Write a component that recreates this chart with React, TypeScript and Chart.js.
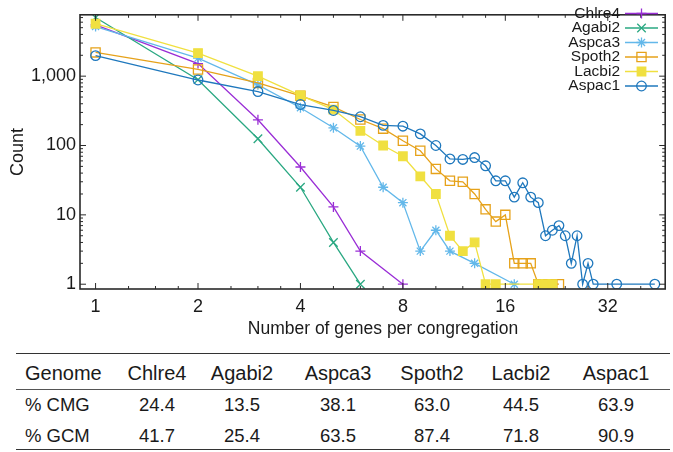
import React, { useEffect, useRef } from 'react';
import { Chart, registerables } from 'chart.js';

Chart.register(...registerables);

const FONT = '"Liberation Sans", Arial, Helvetica, sans-serif';

// ---- data ----
const seriesNames = ['Chlre4', 'Agabi2', 'Aspca3', 'Spoth2', 'Lacbi2', 'Aspac1'];

const chlre4X = [1, 2, 3, 4, 5, 6, 8];
const chlre4Y = [5500, 1520, 235, 49, 13, 3, 1];

const agabi2X = [1, 2, 3, 4, 5, 6];
const agabi2Y = [7000, 890, 125, 25, 4, 1];

const aspca3X = [1, 2, 3, 4, 5, 6, 7, 8, 9, 10, 11, 13, 17];
const aspca3Y = [5200, 1820, 750, 350, 180, 98, 25, 15, 3, 6, 3, 2, 1];

const spoth2X = [1, 2, 3, 4, 5, 6, 7, 8, 9, 10, 11, 12, 13, 14, 15, 16, 17, 18, 19, 20, 21, 22, 23];
const spoth2Y = [2200, 1250, 800, 520, 360, 237, 175, 117, 84, 46, 31, 30, 20, 12, 8, 10, 2, 2, 2, 1, 1, 1, 1];

const lacbi2X = [1, 2, 3, 4, 5, 6, 7, 8, 9, 10, 11, 12, 13, 14, 15, 20, 21, 22];
const lacbi2Y = [5700, 2150, 1000, 530, 330, 163, 100, 70, 36, 20, 5, 3, 4, 1, 1, 1, 1, 1];

const aspac1X = [1, 2, 3, 4, 5, 6, 7, 8, 9, 10, 11, 12, 13, 14, 15, 16, 17, 18, 19, 20, 21, 22, 23, 24, 25, 26, 27, 28, 29, 34, 44];
const aspac1Y = [1980, 880, 600, 390, 320, 260, 195, 190, 147, 100, 64, 63, 67, 51, 31, 31, 18, 29, 18, 15, 5, 6, 7, 5, 2, 5, 1, 2, 1, 1, 1];

const xTickValues = [1, 2, 4, 8, 16, 32];
const yTickValues = [1, 10, 100, 1000];

const xTitle = 'Number of genes per congregation';
const yTitle = 'Count';

// table
const tableHeader = ['Genome', 'Chlre4', 'Agabi2', 'Aspca3', 'Spoth2', 'Lacbi2', 'Aspac1'];
const cmgLabel = '% CMG';
const cmgValues = ['24.4', '13.5', '38.1', '63.0', '44.5', '63.9'];
const gcmLabel = '% GCM';
const gcmValues = ['41.7', '25.4', '63.5', '87.4', '71.8', '90.9'];

// ---- styles ----
const colors = ['#9a2ed6', '#2aa882', '#63b8ea', '#e6a21a', '#f0e040', '#1f78bd'];
const styles = [
  { pointStyle: 'cross', radius: 5, fill: false },
  { pointStyle: 'crossRot', radius: 6, fill: false },
  { pointStyle: 'star', radius: 5, fill: false },
  { pointStyle: 'rect', radius: 6.5, fill: false },
  { pointStyle: 'rect', radius: 6, fill: true },
  { pointStyle: 'circle', radius: 4.8, fill: false },
];

const xs = [chlre4X, agabi2X, aspca3X, spoth2X, lacbi2X, aspac1X];
const ys = [chlre4Y, agabi2Y, aspca3Y, spoth2Y, lacbi2Y, aspac1Y];

function drawMarker(ctx: CanvasRenderingContext2D, style: string, x: number, y: number, r: number, color: string, fill: boolean) {
  ctx.save();
  ctx.strokeStyle = color;
  ctx.fillStyle = color;
  ctx.lineWidth = 1.3;
  ctx.beginPath();
  if (style === 'cross' || style === 'star') {
    ctx.moveTo(x - r, y); ctx.lineTo(x + r, y);
    ctx.moveTo(x, y - r); ctx.lineTo(x, y + r);
  }
  if (style === 'crossRot' || style === 'star') {
    const d = r * Math.SQRT1_2;
    ctx.moveTo(x - d, y - d); ctx.lineTo(x + d, y + d);
    ctx.moveTo(x - d, y + d); ctx.lineTo(x + d, y - d);
  }
  if (style === 'rect') {
    const s = r * Math.SQRT1_2;
    ctx.rect(x - s, y - s, 2 * s, 2 * s);
    if (fill) ctx.fill();
  }
  if (style === 'circle') {
    ctx.arc(x, y, r, 0, Math.PI * 2);
  }
  ctx.stroke();
  ctx.restore();
}

const framePlugin = {
  id: 'frame',
  afterDatasetsDraw(chart: any) {
    const { ctx, chartArea: a, scales } = chart;
    const sx = scales.x;
    const sy = scales.y;
    ctx.save();
    ctx.strokeStyle = '#2a2a2a';
    ctx.lineWidth = 1;
    // x ticks (base 2)
    const xMinor: number[] = [];
    for (let k = -1; k <= 5; k++) {
      const b = Math.pow(2, k);
      [1.25, 1.5, 1.75].forEach((m) => xMinor.push(b * m));
    }
    const drawX = (v: number, len: number) => {
      const p = sx.getPixelForValue(v);
      if (p <= a.left + 1 || p >= a.right - 1) return;
      ctx.beginPath();
      ctx.moveTo(p, a.bottom); ctx.lineTo(p, a.bottom - len);
      ctx.moveTo(p, a.top); ctx.lineTo(p, a.top + len);
      ctx.stroke();
    };
    xMinor.forEach((v) => drawX(v, 3));
    xTickValues.forEach((v) => drawX(v, 6));
    // y ticks (base 10)
    const drawY = (v: number, len: number) => {
      const p = sy.getPixelForValue(v);
      if (p <= a.top + 1 || p >= a.bottom - 1) return;
      ctx.beginPath();
      ctx.moveTo(a.left, p); ctx.lineTo(a.left + len, p);
      ctx.moveTo(a.right, p); ctx.lineTo(a.right - len, p);
      ctx.stroke();
    };
    for (let e = 0; e <= 3; e++) {
      for (let m = 2; m <= 9; m++) drawY(m * Math.pow(10, e), 3);
    }
    yTickValues.forEach((v) => drawY(v, 6));
    // border
    ctx.lineWidth = 1.6;
    ctx.strokeRect(a.left, a.top, a.right - a.left, a.bottom - a.top);

    // x axis title (slightly right of plot centre, as in the reference)
    ctx.font = `17.5px ${FONT}`;
    ctx.fillStyle = '#1a1a1a';
    ctx.textAlign = 'center';
    ctx.textBaseline = 'middle';
    ctx.fillText(xTitle, 383, 329);

    // legend (text left of sample, gnuplot style)
    ctx.font = `15.5px ${FONT}`;
    ctx.textAlign = 'right';
    ctx.textBaseline = 'middle';
    seriesNames.forEach((name, i) => {
      const yy = 13.5 + i * 14.5;
      ctx.fillStyle = '#1a1a1a';
      ctx.fillText(name, 620, yy);
      ctx.strokeStyle = colors[i];
      ctx.lineWidth = 1.3;
      ctx.beginPath();
      ctx.moveTo(625, yy); ctx.lineTo(658, yy);
      ctx.stroke();
      drawMarker(ctx, styles[i].pointStyle, 641.5, yy, styles[i].radius, colors[i], styles[i].fill);
    });
    ctx.restore();
  },
};

export default function App() {
  const ref = useRef<HTMLCanvasElement>(null);

  useEffect(() => {
    const datasets = seriesNames.map((name, i) => ({
      label: name,
      data: xs[i].map((x, j) => ({ x, y: ys[i][j] })),
      borderColor: colors[i],
      backgroundColor: styles[i].fill ? colors[i] : 'rgba(0,0,0,0)',
      pointBackgroundColor: styles[i].fill ? colors[i] : 'rgba(0,0,0,0)',
      pointBorderColor: colors[i],
      borderWidth: 1.3,
      pointBorderWidth: 1.3,
      pointStyle: styles[i].pointStyle,
      pointRadius: styles[i].radius,
      tension: 0,
      fill: false,
      order: seriesNames.length - i,
    }));

    const chart = new Chart(ref.current!, {
      type: 'line',
      data: { datasets },
      plugins: [framePlugin],
      options: {
        animation: false,
        responsive: false,
        devicePixelRatio: 1,
        layout: { padding: { top: 3, right: 3, left: 0, bottom: 0 } },
        plugins: { legend: { display: false }, tooltip: { enabled: false } },
        font: { family: FONT },
        scales: {
          x: {
            type: 'logarithmic',
            min: 0.9,
            max: 47.2,
            grid: { display: false, drawTicks: false },
            border: { display: false },
            afterBuildTicks: (scale: any) => {
              scale.ticks = xTickValues.map((v) => ({ value: v }));
            },
            afterFit: (scale: any) => { scale.height = 56; },
            ticks: {
              autoSkip: false,
              maxRotation: 0,
              padding: 7,
              color: '#1a1a1a',
              font: { family: FONT, size: 18 },
              callback: (v: any) => String(v),
            },
            title: { display: false },
          },
          y: {
            type: 'logarithmic',
            min: 0.853,
            max: 7670,
            grid: { display: false, drawTicks: false },
            border: { display: false },
            afterBuildTicks: (scale: any) => {
              scale.ticks = yTickValues.map((v) => ({ value: v }));
            },
            afterFit: (scale: any) => { scale.width = 80; },
            ticks: {
              autoSkip: false,
              padding: 4,
              color: '#1a1a1a',
              font: { family: FONT, size: 18 },
              callback: (v: any) => Number(v).toLocaleString('en-US'),
            },
            title: {
              display: true,
              text: yTitle,
              color: '#1a1a1a',
              font: { family: FONT, size: 18 },
              padding: { top: 7, bottom: 0 },
            },
          },
        },
      } as any,
    });
    return () => chart.destroy();
  }, []);

  const colCenters = [157, 242, 338, 432, 521, 616];
  const rowCenters = [373, 405, 436];
  const cell = (text: string, cx: number, cy: number, size: number, key: string, left?: boolean) => (
    <div
      key={key}
      style={{
        position: 'absolute',
        top: cy - 14,
        height: 28,
        lineHeight: '28px',
        left: left ? cx : cx - 60,
        width: 120,
        textAlign: left ? 'left' : 'center',
        fontSize: size,
        whiteSpace: 'nowrap',
      }}
    >
      {text}
    </div>
  );

  return (
    <div style={{ position: 'absolute', left: 0, top: 0, width: 673, height: 452, background: '#fff', fontFamily: FONT, color: '#1a1a1a' }}>
      <canvas ref={ref} width={673} height={345} style={{ position: 'absolute', left: 0, top: 0, display: 'block' }} />
      <div style={{ position: 'absolute', left: 16, width: 654, top: 353, height: 0, borderTop: '1.6px solid #333' }} />
      <div style={{ position: 'absolute', left: 16, width: 654, top: 389, height: 0, borderTop: '1px solid #555' }} />
      <div style={{ position: 'absolute', left: 16, width: 654, top: 449, height: 0, borderTop: '1.6px solid #333' }} />
      {cell(tableHeader[0], 25, rowCenters[0], 20, 'h0', true)}
      {tableHeader.slice(1).map((t, i) => cell(t, colCenters[i], rowCenters[0], 20, 'h' + (i + 1)))}
      {cell(cmgLabel, 25, rowCenters[1], 18.5, 'c0', true)}
      {cmgValues.map((t, i) => cell(t, colCenters[i], rowCenters[1], 18.5, 'c' + (i + 1)))}
      {cell(gcmLabel, 25, rowCenters[2], 18.5, 'g0', true)}
      {gcmValues.map((t, i) => cell(t, colCenters[i], rowCenters[2], 18.5, 'g' + (i + 1)))}
    </div>
  );
}
